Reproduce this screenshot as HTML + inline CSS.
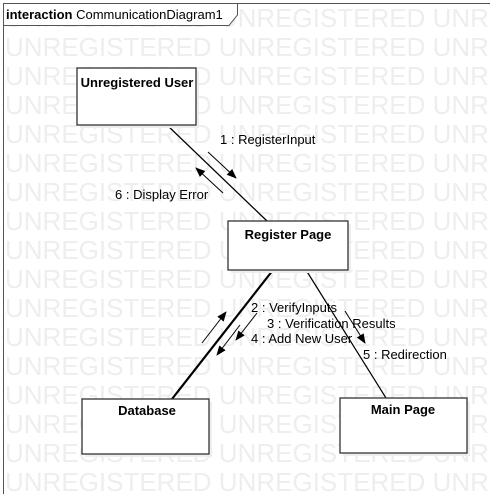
<!DOCTYPE html>
<html><head><style>
body{margin:0;width:490px;height:494px;overflow:hidden;background:#fff;font-family:"Liberation Sans",Arial,sans-serif;}
</style></head><body>
<svg width="490" height="494" xmlns="http://www.w3.org/2000/svg" font-family="Liberation Sans, Arial, sans-serif">
<g fill="#eeeeee" font-size="26" >
<text x="5" y="27">UNREGISTERED UNREGISTERED UNREGISTERED</text>
<text x="5" y="56">UNREGISTERED UNREGISTERED UNREGISTERED</text>
<text x="5" y="85">UNREGISTERED UNREGISTERED UNREGISTERED</text>
<text x="5" y="114">UNREGISTERED UNREGISTERED UNREGISTERED</text>
<text x="5" y="143">UNREGISTERED UNREGISTERED UNREGISTERED</text>
<text x="5" y="172">UNREGISTERED UNREGISTERED UNREGISTERED</text>
<text x="5" y="201">UNREGISTERED UNREGISTERED UNREGISTERED</text>
<text x="5" y="230">UNREGISTERED UNREGISTERED UNREGISTERED</text>
<text x="5" y="259">UNREGISTERED UNREGISTERED UNREGISTERED</text>
<text x="5" y="288">UNREGISTERED UNREGISTERED UNREGISTERED</text>
<text x="5" y="317">UNREGISTERED UNREGISTERED UNREGISTERED</text>
<text x="5" y="346">UNREGISTERED UNREGISTERED UNREGISTERED</text>
<text x="5" y="375">UNREGISTERED UNREGISTERED UNREGISTERED</text>
<text x="5" y="404">UNREGISTERED UNREGISTERED UNREGISTERED</text>
<text x="5" y="433">UNREGISTERED UNREGISTERED UNREGISTERED</text>
<text x="5" y="462">UNREGISTERED UNREGISTERED UNREGISTERED</text>
<text x="5" y="491">UNREGISTERED UNREGISTERED UNREGISTERED</text>
</g>
<rect x="3.5" y="3.5" width="500" height="500" fill="none" stroke="#555" stroke-width="1"/>
<path d="M3.5 3.5 H237.5 V15 L229 25.5 H3.5 Z" fill="#fff" stroke="#555"/>
<text x="6" y="19" font-size="13"><tspan font-weight="bold">interaction</tspan> CommunicationDiagram1</text>
<g stroke="#000" fill="none">
<line x1="167" y1="125" x2="267" y2="221" stroke-width="1.3"/>
<line x1="273" y1="270" x2="172" y2="399" stroke-width="2.2"/>
<line x1="306" y1="270" x2="386" y2="398" stroke-width="1.2"/>
</g>
<defs><marker id="a" markerWidth="10" markerHeight="10" refX="9" refY="5" orient="auto" markerUnits="userSpaceOnUse"><path d="M0 1 L10 5 L0 9 Z" fill="#000"/></marker></defs>
<g stroke="#000" stroke-width="1" marker-end="url(#a)">
<line x1="208" y1="152" x2="236" y2="178"/>
<line x1="223" y1="193" x2="196" y2="168"/>
<line x1="202" y1="343" x2="226" y2="312"/>
<line x1="257" y1="313" x2="236" y2="340"/>
<line x1="240" y1="325" x2="217" y2="355"/>
<line x1="345" y1="311" x2="365" y2="343"/>
</g>
<g font-size="13" fill="#000">
<text x="220" y="144">1 : RegisterInput</text>
<text x="115" y="199">6 : Display Error</text>
<text x="251" y="312">2 : VerifyInputs</text>
<text x="267" y="328">3 : Verification Results</text>
<text x="251" y="343">4 : Add New User</text>
<text x="363" y="359">5 : Redirection</text>
</g>
<g fill="#fff" stroke="#333" stroke-width="1.3">
<rect x="80" y="71" width="119" height="57" fill="#eee" stroke="none"/>
<rect x="77" y="68" width="119" height="57"/>
<rect x="231" y="224" width="120" height="49" fill="#eee" stroke="none"/>
<rect x="228" y="221" width="120" height="49"/>
<rect x="85" y="402" width="127" height="55" fill="#eee" stroke="none"/>
<rect x="82" y="399" width="127" height="55"/>
<rect x="343" y="401" width="127" height="55" fill="#eee" stroke="none"/>
<rect x="340" y="398" width="127" height="55"/>
</g>
<g font-size="13" font-weight="bold" text-anchor="middle" fill="#000">
<text x="137" y="87">Unregistered User</text>
<text x="288" y="239">Register Page</text>
<text x="147" y="415">Database</text>
<text x="403" y="414">Main Page</text>
</g>
</svg>
</body></html>
